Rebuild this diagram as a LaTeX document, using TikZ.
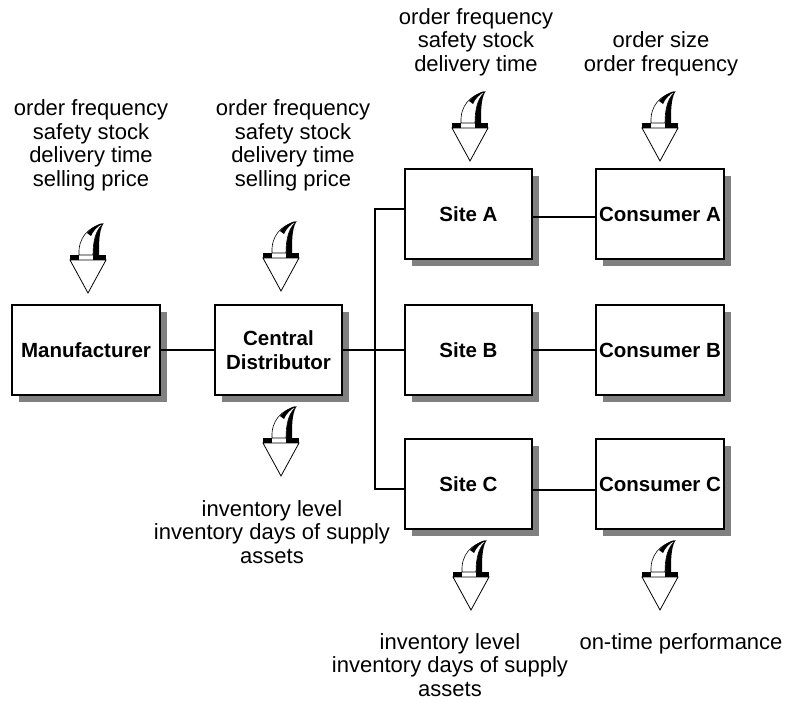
\documentclass[tikz,border=0pt]{standalone}
\usepackage{fontspec}
\setmainfont{Liberation Sans}
\usetikzlibrary{shadows}
\definecolor{shadowgray}{HTML}{808080}
\begin{document}
\begin{tikzpicture}[x=1pt,y=-1pt,
  box/.style={draw, line width=1.3pt, fill=white, inner sep=0pt,
    minimum width=127pt, minimum height=90pt, align=center,
    font=\fontsize{20.5}{24}\selectfont\bfseries,
    general shadow={fill=shadowgray, shadow xshift=7pt, shadow yshift=-7pt}},
  lbl/.style={inner sep=0pt, align=center, anchor=base,
    font=\fontsize{22}{23.5}\selectfont},
  link/.style={line width=1.2pt},
  curlarrow/.pic={
    % flange at the base of the curled shaft
    \fill[black] (-18,-5) rectangle (-9,0);
    \fill[black] (5,-5) rectangle (18,0);
    % open triangular head
    \draw[line width=0.8pt, fill=white, line join=miter] (-18,0) -- (18,0) -- (0,33) -- cycle;
    % dark side of the curled shaft
    \fill[black] (5,-5) .. controls (5,-20) and (8,-30) .. (15,-36)
      .. controls (11,-28) and (11,-18) .. (11,-5) -- cycle;
    % light face of the curled shaft
    \draw[line width=0.6pt, fill=white] (-9,-5) .. controls (-10,-22) and (0,-33) .. (15,-36)
      .. controls (8,-30) and (5,-20) .. (5,-5) -- cycle;
    % dark rim near the tip
    \fill[black] (-1,-27) .. controls (4,-33) and (10,-36) .. (15,-37)
      .. controls (9,-33) and (5,-29) .. (3,-24) -- cycle;
  }]
\useasboundingbox (0,0) rectangle (791,702);

% supply chain stages
\node[box, minimum width=148pt] (mfr) at (86,350) {Manufacturer};
\node[box] (cd) at (278.5,350) {Central\\Distributor};
\node[box] (siteA) at (468.5,214) {Site A};
\node[box] (siteB) at (468.5,350) {Site B};
\node[box] (siteC) at (468.5,484) {Site C};
\node[box, minimum width=128pt] (consA) at (660,214) {Consumer A};
\node[box, minimum width=128pt] (consB) at (660,350) {Consumer B};
\node[box, minimum width=128pt] (consC) at (660,484) {Consumer C};

% distribution bus
\coordinate (busTop) at (375,209);
\coordinate (busBot) at (375,489);
\draw[link] (mfr.east) -- (cd.west);
\draw[link] (cd.east) -- (siteB.west);
\draw[link] ([yshift=5pt]siteA.west) -- (busTop) -- (busBot) -- ([yshift=-5pt]siteC.west);
\draw[link] ([yshift=-3pt]siteA.east) -- ([yshift=-3pt]consA.west);
\draw[link] (siteB.east) -- (consB.west);
\draw[link] ([yshift=-6pt]siteC.east) -- ([yshift=-6pt]consC.west);

% inputs and outputs (anchored at the baseline of the last line)
\node[lbl] (mfrIn) at (91,186) {order frequency\\safety stock\\delivery time\\selling price};
\node[lbl] (cdIn) at (293,186) {order frequency\\safety stock\\delivery time\\selling price};
\node[lbl] (siteAIn) at (476,71) {order frequency\\safety stock\\delivery time};
\node[lbl] (consAIn) at (661,71) {order size\\order frequency};
\node[lbl] (cdOut) at (272,563) {inventory level\\inventory days of supply\\assets};
\node[lbl] (siteCOut) at (450,696) {inventory level\\inventory days of supply\\assets};
\node[lbl] (consCOut) at (681,649) {on-time performance};

% curled arrows
\pic at (88,260) {curlarrow};
\pic at (281,258) {curlarrow};
\pic at (470,128) {curlarrow};
\pic at (660,128) {curlarrow};
\pic at (281,443) {curlarrow};
\pic at (471,577) {curlarrow};
\pic at (660,577) {curlarrow};
\end{tikzpicture}
\end{document}
